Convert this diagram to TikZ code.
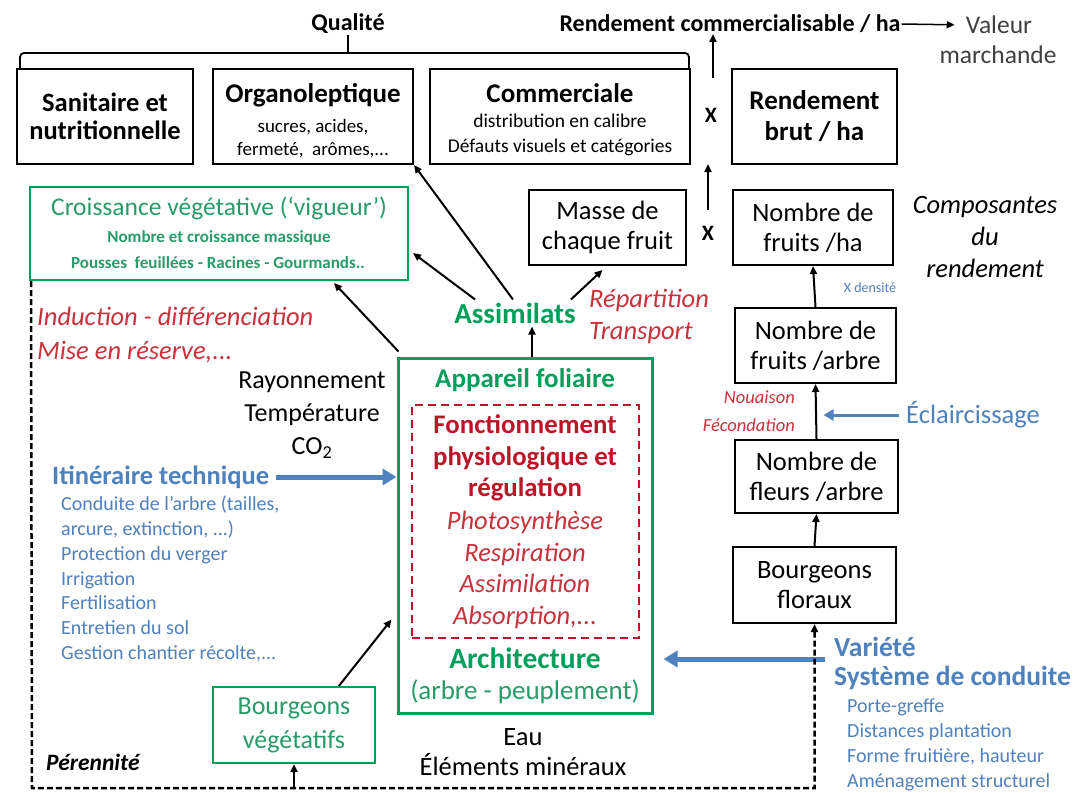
\documentclass[tikz,border=0pt]{standalone}
\usepackage{fontspec}
\setmainfont{Carlito}
\usetikzlibrary{arrows.meta,calc}
\definecolor{grn}{RGB}{0,160,90}
\definecolor{grnt}{RGB}{40,155,105}
\definecolor{rd}{RGB}{190,20,40}
\definecolor{rdt}{RGB}{200,50,60}
\definecolor{blu}{RGB}{79,129,189}
\newcommand{\fsz}[2]{\fontsize{#1}{#2}\selectfont}
\begin{document}
\begin{tikzpicture}[x=1pt,y=-1pt,
  bbox/.style={draw=black, line width=2pt, inner sep=0pt, align=center, font=\fsz{26.5}{30}},
  gbox/.style={draw=grn, line width=2pt, inner sep=0pt, align=center},
  arr/.style={-{Triangle[length=8pt,width=7pt]}, line width=2pt},
  barr/.style={-{Triangle[length=14pt,width=16pt]}, line width=5pt, draw=blu},
  dsh/.style={line width=2.5pt, dash pattern=on 6pt off 3pt},
  lbl/.style={inner sep=1pt}]
\fill[white] (0,0) rectangle (1078,792);
\useasboundingbox (0,0) rectangle (1078,792);

% ---- top row ----
\node[lbl, font=\bfseries\fsz{24}{28}] (qual) at (348,24) {Qualité};
\node[lbl, font=\bfseries\fsz{24}{28}] (rcom) at (730,24) {Rendement commercialisable / ha};
\node[lbl, font=\fsz{25.5}{30}, text=black!75] (val) at (999,25) {Valeur};
\node[lbl, font=\fsz{25.5}{30}, text=black!75] (march) at (998,55) {marchande};
\draw[arr, line width=1.5pt, shorten >=10pt] (rcom.east) -- (val.west);

\node[bbox, minimum width=176, minimum height=95, font=\bfseries\fsz{26.5}{28}] (san) at (105,116.5) {Sanitaire et\\nutritionnelle};
\node[bbox, minimum width=200, minimum height=95] (org) at (313,116.5) {};
\node[lbl, font=\bfseries\fsz{27}{30}] (orgt) at (313,95) {Organoleptique};
\node[lbl, font=\fsz{19}{23}, align=center] (orgs) at (313,139) {sucres, acides,\\fermeté,\ \ arômes,...};
\node[bbox, minimum width=260, minimum height=95] (com) at (560,116.5) {};
\node[lbl, font=\bfseries\fsz{27}{30}] (comt) at (560,93) {Commerciale};
\node[lbl, font=\fsz{19.5}{25}, align=center] (coms) at (560,135) {distribution en calibre\\Défauts visuels et catégories};
\node[bbox, minimum width=165, minimum height=95, font=\bfseries\fsz{27}{31}] (brut) at (814.5,116.5) {Rendement\\brut / ha};

\coordinate (br) at (348,54);
\draw[line width=1.8pt, rounded corners=4pt] ($(san.north west)+(4,0)$) |- ($(com.north east)+(-2,-15)$) -- ($(com.north east)+(-2,0)$);
\draw[line width=1.8pt] (br) -- (qual.south);

\node[lbl, font=\bfseries\fsz{22}{26}] (x1) at (711,115) {X};
\coordinate (a1s) at (713,78);
\coordinate (a1e) at (713,34);
\draw[arr] (a1s) -- (a1e);

% ---- second row ----
\node[gbox, minimum width=378, minimum height=93] (croi) at (219,233.5) {};
\node[lbl, text=grnt, font=\fsz{25.5}{28}] (c1) at (219,208) {Croissance végétative (‘vigueur’)};
\node[lbl, text=grnt, font=\bfseries\fsz{17}{20}] (c2) at (219,238) {Nombre et croissance massique};
\node[lbl, text=grnt, font=\bfseries\fsz{17}{20}] (c3) at (218,263) {Pousses\ \ feuillées - Racines - Gourmands..};

\node[bbox, minimum width=157, minimum height=75] (masse) at (607.5,227.5) {Masse de\\chaque fruit};
\node[lbl, font=\bfseries\fsz{22}{26}] (x2) at (708,233) {X};
\coordinate (a2s) at (708,210);
\coordinate (a2e) at (708,164);
\draw[arr] (a2s) -- (a2e);
\node[bbox, minimum width=160, minimum height=75] (fha) at (813,227.5) {Nombre de\\fruits /ha};
\node[lbl, align=center, font=\itshape\fsz{26.5}{32}] (comp) at (985,237) {Composantes\\du\\rendement};

\node[lbl, anchor=west, align=left, font=\itshape\fsz{26.5}{34}, text=rdt] (ind) at (36,335) {Induction - différenciation\\Mise en réserve,...};
\node[lbl, font=\bfseries\fsz{29}{32}, text=grn] (assim) at (515,313) {Assimilats};
\node[lbl, anchor=west, align=left, font=\itshape\fsz{26.5}{32}, text=rdt] (rep) at (588,316) {Répartition\\Transport};

\node[lbl, text=blu, font=\fsz{14}{16}] (xd) at (870,288) {X densité};
\node[bbox, minimum width=161, minimum height=75] (farb) at (815.5,345.5) {Nombre de\\fruits /arbre};
\draw[arr] (farb.north) -- (fha.south);
\node[lbl, anchor=east, align=right, font=\itshape\fsz{18.5}{28}, text=rdt] (nou) at (796,411) {Nouaison\\Fécondation};
\node[lbl, anchor=west, text=blu, font=\fsz{26.5}{30}] (ecl) at (905,415) {Éclaircissage};
\node[bbox, minimum width=163, minimum height=73] (fleurs) at (816.5,476.5) {Nombre de\\fleurs /arbre};
\draw[arr] (fleurs.north) -- (farb.south);
\draw[blu, line width=3pt, -{Triangle[length=10pt,width=11pt]}, shorten >=8pt, shorten <=6pt] (ecl.west) -- (ecl.west -| farb.south);
\node[bbox, minimum width=163, minimum height=76] (bflo) at (814.5,585) {Bourgeons\\floraux};
\draw[arr] (bflo.north) -- (fleurs.south);

% ---- central ----
\node[lbl, align=center, font=\fsz{26}{33}] (ray) at (312,415) {Rayonnement\\Température\\CO\textsubscript{2}};
\node[lbl, anchor=west, text=blu, font=\bfseries\fsz{26.5}{30}] (itin) at (51,477) {Itinéraire technique};
\node[lbl, anchor=west, align=left, text=blu, font=\fsz{20}{24.7}] (itl) at (60,579) {Conduite de l’arbre (tailles,\\arcure, extinction, ...)\\Protection du verger\\Irrigation\\Fertilisation\\Entretien du sol\\Gestion chantier récolte,...};

\node[gbox, line width=3pt, minimum width=254, minimum height=355] (app) at (525,535.5) {};
\node[lbl, text=grn, font=\bfseries\fsz{27}{28}] (appt) at (525,380) {Appareil foliaire};
\node[draw=rd, line width=2pt, dash pattern=on 8pt off 5pt, minimum width=227, minimum height=233, inner sep=0pt] (phys) at (525.5,521.5) {};
\node[lbl, align=center, text=rd, font=\bfseries\fsz{26.8}{31.5}] (fonc) at (525,458) {Fonctionnement\\physiologique et\\régulation};
\node[lbl, align=center, text=rdt, font=\itshape\fsz{26.5}{31.5}] (phot) at (525,570) {Photosynthèse\\Respiration\\Assimilation\\Absorption,...};
\node[lbl, text=grn, font=\bfseries\fsz{29.5}{30}] (arch) at (525,658) {Architecture};
\node[lbl, text=grnt, font=\fsz{27}{28}] (peup) at (525,692) {(arbre - peuplement)};
\node[lbl, align=center, font=\fsz{26.5}{30}] (eau) at (523,752) {Eau\\Éléments minéraux};

\node[gbox, minimum width=162, minimum height=76, text=grnt, font=\fsz{26}{34}] (bveg) at (294,725) {Bourgeons\\végétatifs};
\node[lbl, anchor=west, font=\bfseries\itshape\fsz{23.5}{24}] (per) at (45,762) {Pérennité};

\node[lbl, anchor=west, text=blu, font=\bfseries\fsz{27.5}{30}] (var) at (833,647) {Variété};
\node[lbl, anchor=west, text=blu, font=\bfseries\fsz{27.5}{30}] (sys) at (833,678) {Système de conduite};
\node[lbl, anchor=west, align=left, text=blu, font=\fsz{20}{25}] (sysl) at (846,744.5) {Porte-greffe\\Distances plantation\\Forme fruitière, hauteur\\Aménagement structurel};

% ---- connectors ----
\draw[barr, shorten <=6pt] (itin.east) -- (app.west |- itin.east);
\coordinate (bs) at (825,659);
\draw[barr, shorten >=10pt] (bs) -- (bs -| app.east);

\draw[arr] ($(app.north)+(7,0)$) -- ($(app.north)+(7,-30)$);
\draw[arr] ($(assim.north)+(-2,-2)$) -- (org.south east);
\draw[arr] ($(assim.north west)+(22,-2)$) -- ($(croi.south east)+(4,-28)$);
\draw[arr] ($(assim.north east)+(-6,-2)$) -- ($(masse.south)+(-5,4)$);
\draw[arr] ($(app.north west)+(2,-5)$) -- ($(croi.south west)+(305,2)$);
\draw[arr] (bveg.41) -- ($(app.south west)+(-5,-95)$);

\coordinate (bl) at (32,788);
\draw[dsh, -{Triangle[length=8pt,width=7pt]}] ($(croi.south west)+(2,0)$) -- (bl) -| (bflo.south);
\draw[arr] (bveg.south |- bl) -- (bveg.south);
\end{tikzpicture}
\end{document}
